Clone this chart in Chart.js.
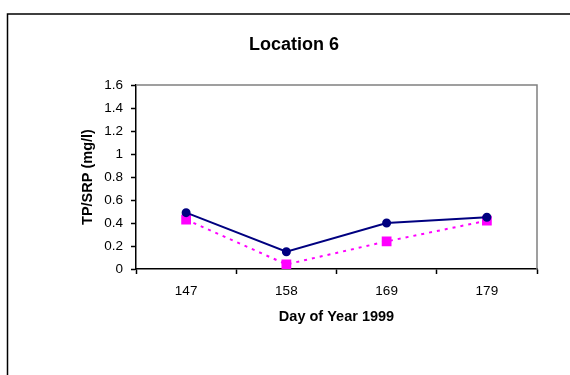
<!DOCTYPE html>
<html>
<head>
<meta charset="utf-8">
<script src="https://cdn.jsdelivr.net/npm/chart.js@4"></script>
<style>
  html, body { margin: 0; padding: 0; background: #fff; }
  canvas { display: block; }
</style>
</head>
<body>
<canvas id="chart" width="570" height="375"></canvas>
<script>
// data
const days = ["147", "158", "169", "179"]
const tpValues = [0.49, 0.15, 0.40, 0.45]
const srpValues = [0.43, 0.04, 0.24, 0.42]
const yTickLabels = ["0", "0.2", "0.4", "0.6", "0.8", "1", "1.2", "1.4", "1.6"]

const FONT = "'Liberation Sans', Arial, sans-serif"

// frame, titles, grey plot border
const decorations = {
  id: "decorations",
  beforeDatasetsDraw(chart) {
    const { ctx, chartArea: a } = chart
    ctx.save()
    ctx.strokeStyle = "#808080"
    ctx.lineWidth = 1.5
    ctx.beginPath()
    ctx.moveTo(a.left, a.top)
    ctx.lineTo(a.right, a.top)
    ctx.lineTo(a.right, a.bottom)
    ctx.stroke()
    ctx.restore()
  },
  afterDraw(chart) {
    const { ctx, chartArea: a } = chart
    ctx.save()
    // outer frame (only left + top are inside the window)
    ctx.strokeStyle = "#000"
    ctx.lineWidth = 1.5
    ctx.beginPath()
    ctx.moveTo(7.5, 375)
    ctx.lineTo(7.5, 14)
    ctx.lineTo(570, 14)
    ctx.stroke()

    ctx.fillStyle = "#000"
    ctx.textAlign = "center"
    ctx.textBaseline = "middle"
    ctx.font = "bold 18px " + FONT
    ctx.fillText("Location 6", 294, 45)

    ctx.font = "bold 14.5px " + FONT
    ctx.fillText("Day of Year 1999", (a.left + a.right) / 2, 317)

    ctx.translate(88, (a.top + a.bottom) / 2)
    ctx.rotate(-Math.PI / 2)
    ctx.fillText("TP/SRP (mg/l)", 0, 0)
    ctx.restore()
  },
}

new Chart(document.getElementById("chart"), {
  type: "line",
  data: {
    labels: days,
    datasets: [
      {
        label: "TP",
        data: tpValues,
        borderColor: "#000080",
        backgroundColor: "#000080",
        borderWidth: 2,
        pointStyle: "circle",
        pointRadius: 3.5,
        tension: 0,
      },
      {
        label: "SRP",
        data: srpValues,
        borderColor: "#FF00FF",
        backgroundColor: "#FF00FF",
        borderWidth: 2,
        borderDash: [3, 5],
        pointStyle: "rect",
        pointRadius: 5.5,
        tension: 0,
      },
    ],
  },
  options: {
    responsive: false,
    animation: false,
    layout: {
      padding: { left: 0, top: 85, right: 33, bottom: 0 },
    },
    plugins: {
      legend: { display: false },
      tooltip: { enabled: false },
    },
    scales: {
      x: {
        offset: true,
        grid: {
          offset: true,
          drawOnChartArea: false,
          tickLength: 5,
          tickColor: "#000",
          tickWidth: 1.5,
        },
        border: { color: "#000", width: 1.5 },
        ticks: {
          color: "#000",
          font: { family: FONT, size: 13.5 },
          padding: 9,
          maxRotation: 0,
        },
        afterFit: (s) => { s.height = 106 },
      },
      y: {
        min: 0,
        max: 1.6,
        grid: {
          drawOnChartArea: false,
          tickLength: 5,
          tickColor: "#000",
          tickWidth: 1.5,
        },
        border: { color: "#000", width: 1.5 },
        ticks: {
          stepSize: 0.2,
          color: "#000",
          font: { family: FONT, size: 13.5 },
          padding: 8,
          callback: (v, i) => yTickLabels[i],
        },
        afterFit: (s) => { s.width = 136 },
      },
    },
  },
  plugins: [decorations],
})
</script>
</body>
</html>
